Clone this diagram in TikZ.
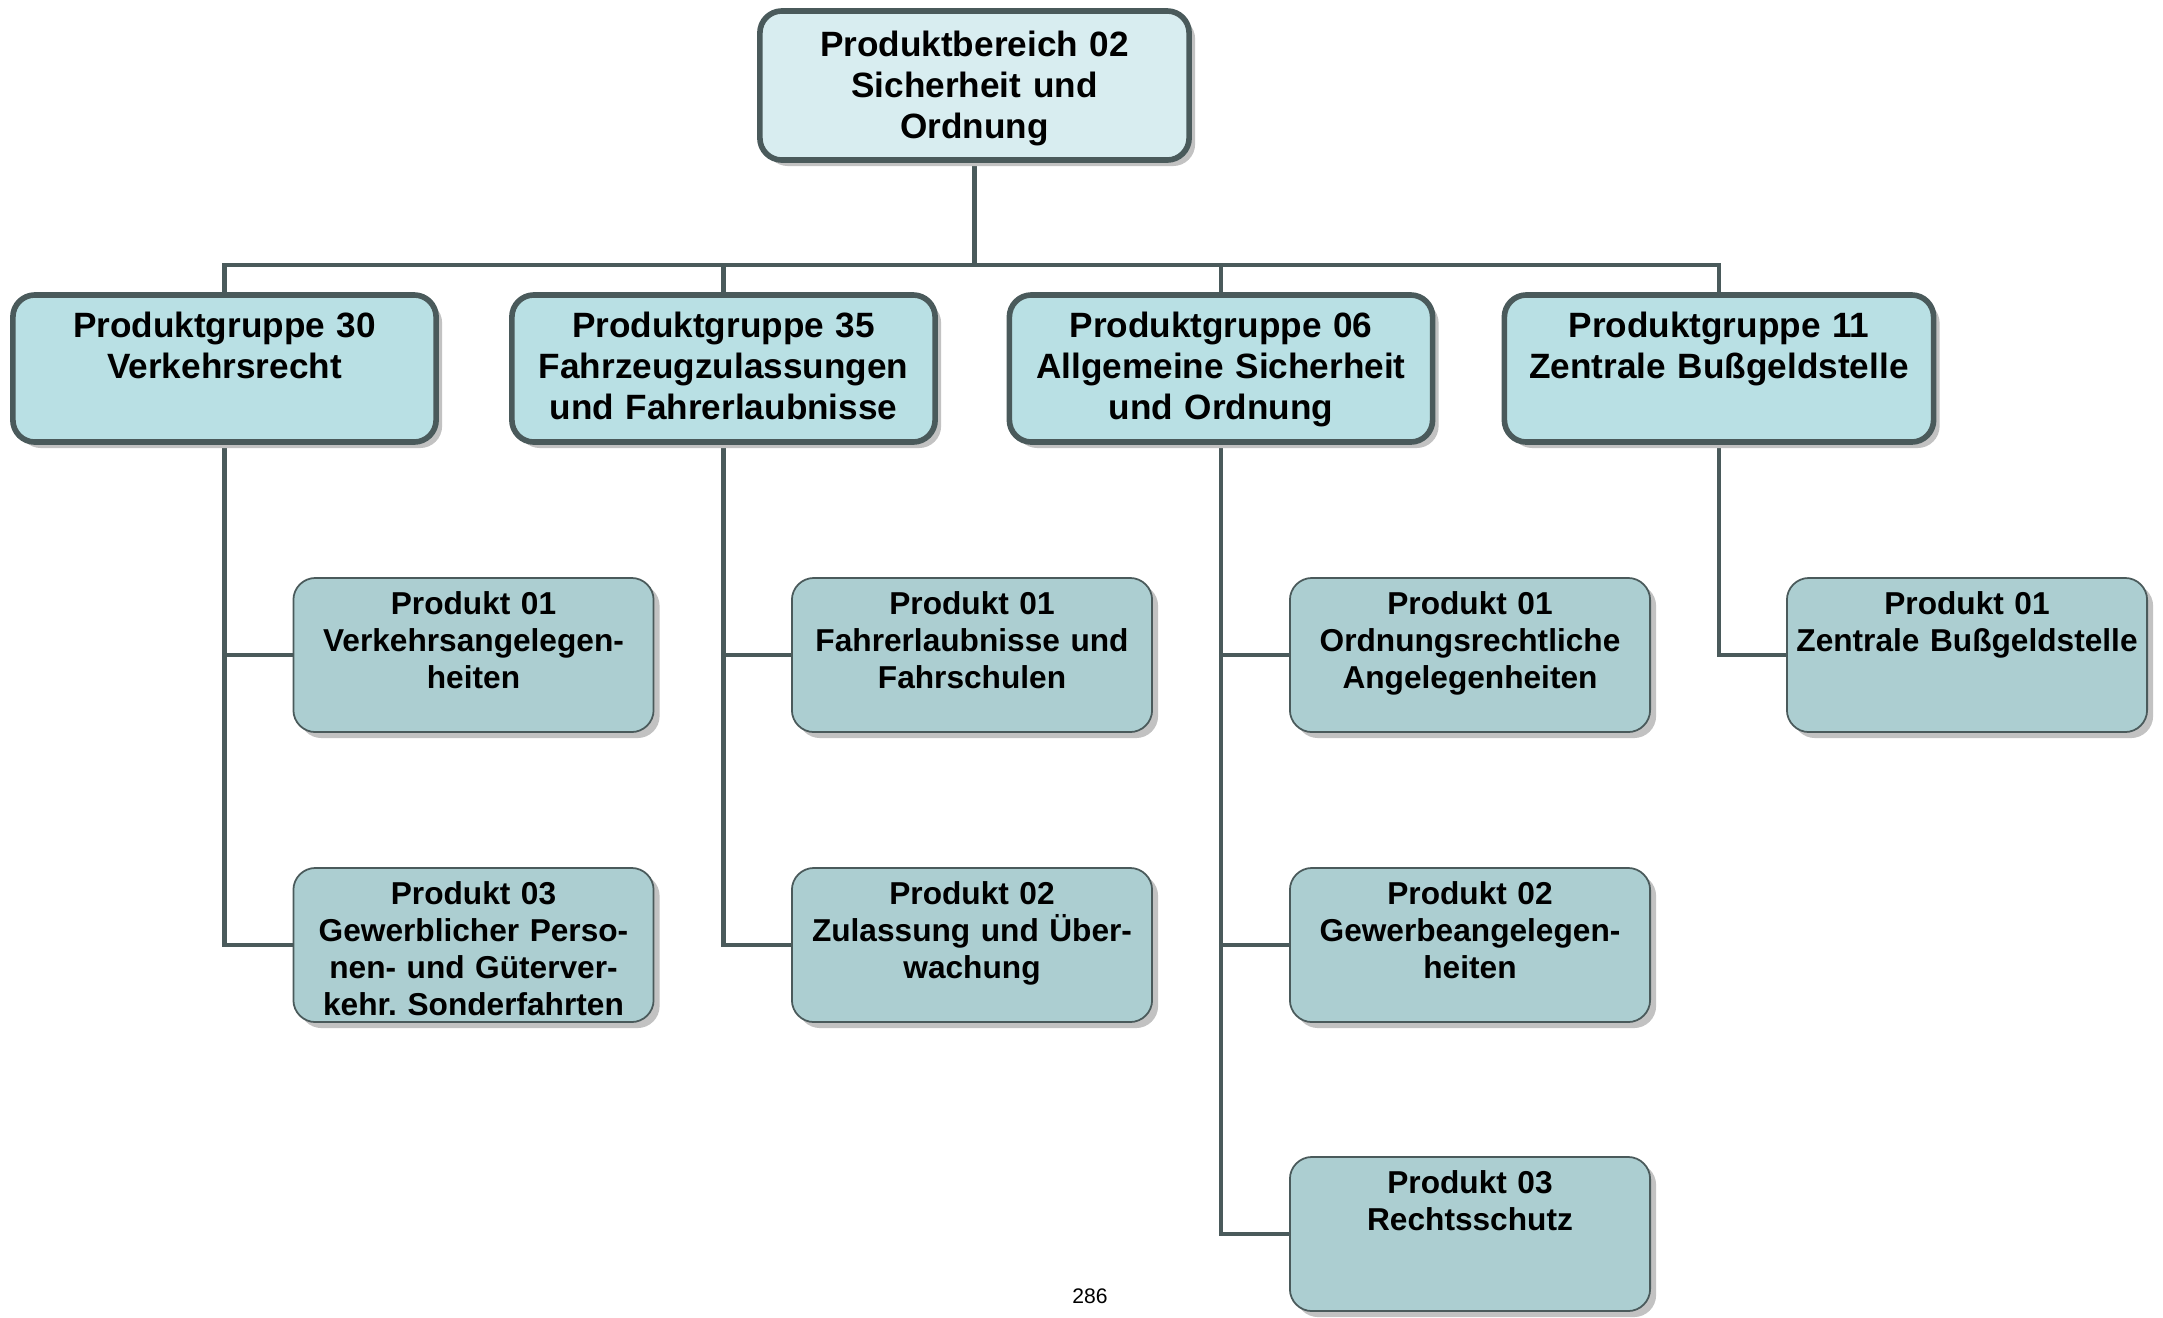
\documentclass[tikz,border=0pt]{standalone}
\usepackage{fontspec}
\setmainfont{Liberation Sans}
\usetikzlibrary{shadows,backgrounds}
\frenchspacing

\definecolor{rand}{HTML}{4A5A5B}
\definecolor{bereichfill}{HTML}{D8EDF0}
\definecolor{gruppefill}{HTML}{B9E0E4}
\definecolor{produktfill}{HTML}{ACCED1}
\definecolor{schatten}{HTML}{C2C2C2}

\tikzset{
  kasten/.style={draw=rand, rounded corners=0.22cm, inner xsep=0pt, inner ysep=0pt, align=center,
    drop shadow={shadow xshift=0.06cm, shadow yshift=-0.06cm, fill=schatten, opacity=1}},
  bereich/.style={kasten, line width=1.6pt, fill=bereichfill, minimum width=4.29cm, text width=4.1cm,
    text height=0.46cm, text depth=1.03cm, font=\fontsize{10}{11.6}\selectfont\bfseries},
  gruppe/.style={kasten, line width=1.6pt, fill=gruppefill, minimum width=4.23cm, text width=4.05cm,
    text height=0.43cm, text depth=1.04cm, font=\fontsize{10}{11.6}\selectfont\bfseries},
  produkt/.style={kasten, line width=0.5pt, fill=produktfill, minimum width=3.6cm, text width=3.5cm,
    text height=0.37cm, text depth=1.17cm, font=\fontsize{9}{10.5}\selectfont\bfseries},
  linie/.style={draw=rand, line width=1.4pt}
}

\begin{document}
\begin{tikzpicture}[x=0.01cm,y=-0.01cm]
\useasboundingbox (0,0) rectangle (2163,1317);

% Produktbereich
\node[bereich] (pb) at (974.5,85.5) {Produktbereich 02\\Sicherheit und\\Ordnung};

% Produktgruppen
\node[gruppe] (g30) at (224.5,368.5) {Produktgruppe 30\\Verkehrsrecht};
\node[gruppe] (g35) at (723.5,368.5) {Produktgruppe 35\\Fahrzeugzulassungen\\und Fahrerlaubnisse};
\node[gruppe] (g06) at (1221,368.5) {Produktgruppe 06\\Allgemeine Sicherheit\\und Ordnung};
\node[gruppe,minimum width=4.29cm] (g11) at (1719,368.5) {Produktgruppe 11\\Zentrale Bußgeldstelle};

% Produkte
\node[produkt] (g30p01) at (473.5,655) {Produkt 01\\Verkehrsangelegen-\\heiten};
\node[produkt] (g30p03) at (473.5,945) {Produkt 03\\Gewerblicher Perso-\\nen- und Güterver-\\kehr. Sonderfahrten};
\node[produkt] (g35p01) at (972,655) {Produkt 01\\Fahrerlaubnisse und\\Fahrschulen};
\node[produkt] (g35p02) at (972,945) {Produkt 02\\Zulassung und Über-\\wachung};
\node[produkt] (g06p01) at (1470,655) {Produkt 01\\Ordnungsrechtliche\\Angelegenheiten};
\node[produkt] (g06p02) at (1470,945) {Produkt 02\\Gewerbeangelegen-\\heiten};
\node[produkt] (g06p03) at (1470,1234) {Produkt 03\\Rechtsschutz};
\node[produkt] (g11p01) at (1967,655) {Produkt 01\\Zentrale Bußgeldstelle};

\node (seite) at (1090,1296) {\fontsize{6}{7}\selectfont 286};

\coordinate (bus) at (974.5,265);

\begin{scope}[on background layer]
  \draw[linie] (pb.south) -- (bus);
  \draw[linie] (g30.north) |- (bus) -| (g11.north);
  \draw[linie] (g35.north) -- (g35.north |- bus);
  \draw[linie] (g06.north) -- (g06.north |- bus);
  \draw[linie] (g30.south) |- (g30p01.west);
  \draw[linie] (g30.south) |- (g30p03.west);
  \draw[linie] (g35.south) |- (g35p01.west);
  \draw[linie] (g35.south) |- (g35p02.west);
  \draw[linie] (g06.south) |- (g06p01.west);
  \draw[linie] (g06.south) |- (g06p02.west);
  \draw[linie] (g06.south) |- (g06p03.west);
  \draw[linie] (g11.south) |- (g11p01.west);
\end{scope}
\end{tikzpicture}
\end{document}
